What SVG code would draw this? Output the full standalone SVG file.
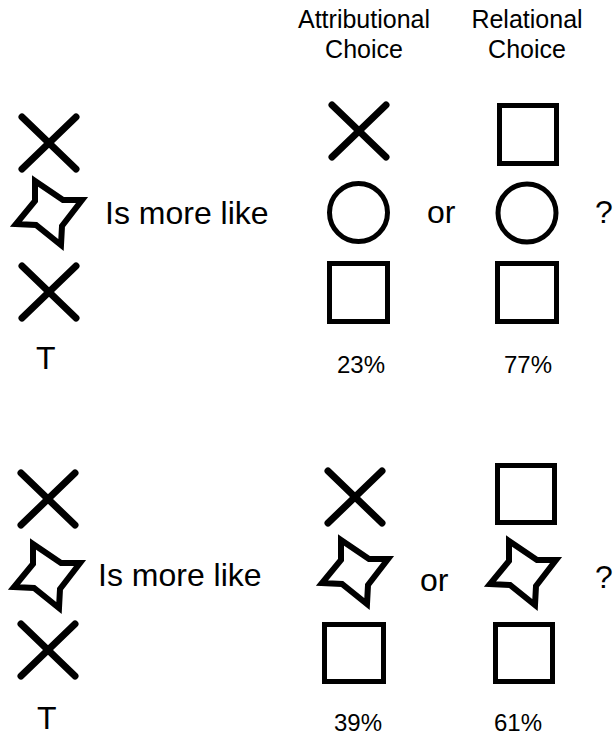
<svg xmlns="http://www.w3.org/2000/svg" width="613" height="736" viewBox="0 0 613 736">
<style>
  .t { font-family: "Liberation Sans", Arial, sans-serif; fill: #000; }
  .hdr { font-size: 25px; text-anchor: middle; }
  .big { font-size: 32px; }
  .pct { font-size: 24px; text-anchor: middle; }
  .x { stroke: #000; stroke-width: 7; stroke-linecap: round; fill: none; }
  .sq { stroke: #000; stroke-width: 5; fill: none; }
  .star { stroke: #000; stroke-width: 6; fill: none; stroke-linejoin: miter; stroke-miterlimit: 10; }
</style>
<defs>
  <g id="xshape"><line x1="-27" y1="-26" x2="27" y2="26"/><line x1="27" y1="-26" x2="-27" y2="26"/></g>
  <polygon id="starshape" points="-14,-32 14,-13 33,-13 13,13 12,32 -13,12 -33,11 -14,-12"/>
</defs>

<g id="headers">
  <text class="t hdr" x="364" y="28">Attributional</text>
  <text class="t hdr" x="364" y="58">Choice</text>
  <text class="t hdr" x="527" y="28">Relational</text>
  <text class="t hdr" x="527" y="58">Choice</text>
</g>

<g id="row1">
  <g id="r1-target">
    <use href="#xshape" class="x" x="49" y="143"/>
    <use href="#starshape" class="star" x="49" y="213"/>
    <use href="#xshape" class="x" x="49" y="292"/>
    <text class="t big" x="36" y="369">T</text>
  </g>
  <text class="t big" x="105" y="224">Is more like</text>
  <g id="r1-attr">
    <use href="#xshape" class="x" x="359" y="131"/>
    <circle class="sq" cx="358.5" cy="212.5" r="29"/>
    <rect class="sq" x="329.5" y="263.5" width="58" height="58"/>
    <text class="t pct" x="361" y="373">23%</text>
  </g>
  <text class="t big" x="427" y="223">or</text>
  <g id="r1-rel">
    <rect class="sq" x="499.5" y="105.5" width="57" height="58"/>
    <circle class="sq" cx="527" cy="213" r="29"/>
    <rect class="sq" x="497.5" y="263.5" width="59" height="58"/>
    <text class="t pct" x="528" y="373">77%</text>
  </g>
  <text class="t big" x="595" y="223">?</text>
</g>

<g id="row2">
  <g id="r2-target">
    <use href="#xshape" class="x" x="48" y="499"/>
    <use href="#starshape" class="star" x="47" y="576"/>
    <use href="#xshape" class="x" x="48" y="650"/>
    <text class="t big" x="37" y="729">T</text>
  </g>
  <text class="t big" x="98" y="586">Is more like</text>
  <g id="r2-attr">
    <use href="#xshape" class="x" x="355" y="497"/>
    <use href="#starshape" class="star" x="355" y="572"/>
    <rect class="sq" x="324.5" y="624.5" width="59" height="57"/>
    <text class="t pct" x="358" y="731">39%</text>
  </g>
  <text class="t big" x="420" y="591">or</text>
  <g id="r2-rel">
    <rect class="sq" x="497.5" y="465.5" width="57" height="57"/>
    <use href="#starshape" class="star" x="523" y="573"/>
    <rect class="sq" x="495.5" y="624.5" width="57" height="57"/>
    <text class="t pct" x="518" y="731">61%</text>
  </g>
  <text class="t big" x="595" y="588">?</text>
</g>
</svg>
